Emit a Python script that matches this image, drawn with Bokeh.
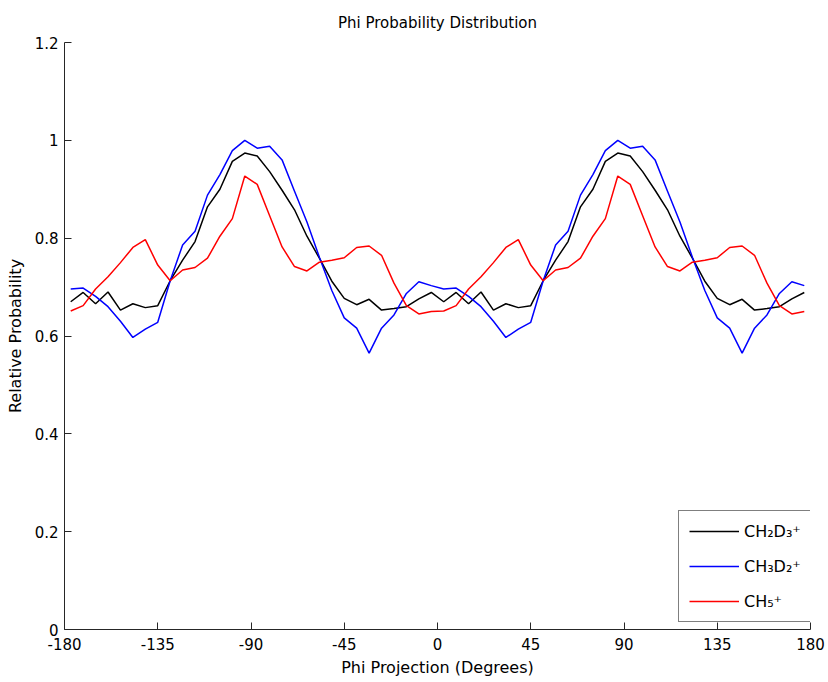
from bokeh.plotting import figure
from bokeh.models import FixedTicker, CustomJSTickFormatter, Legend, LegendItem, Range1d
from bokeh.embed import file_html
from bokeh.resources import INLINE

# Bin centres (degrees)
angles = [-177, -171, -165, -159, -153, -147, -141, -135, -129, -123,
          -117, -111, -105, -99, -93, -87, -81, -75, -69, -63,
          -57, -51, -45, -39, -33, -27, -21, -15, -9, -3,
          3, 9, 15, 21, 27, 33, 39, 45, 51, 57,
          63, 69, 75, 81, 87, 93, 99, 105, 111, 117,
          123, 129, 135, 141, 147, 153, 159, 165, 171, 177]

ch2d3 = [0.670, 0.689, 0.666, 0.690, 0.653, 0.666, 0.658, 0.662, 0.713, 0.755,
         0.793, 0.864, 0.900, 0.957, 0.974, 0.968, 0.936, 0.898, 0.858, 0.804,
         0.759, 0.712, 0.677, 0.664, 0.675, 0.653, 0.656, 0.660, 0.676, 0.689,
         0.670, 0.689, 0.666, 0.690, 0.653, 0.666, 0.658, 0.662, 0.713, 0.755,
         0.793, 0.864, 0.900, 0.957, 0.974, 0.968, 0.936, 0.898, 0.858, 0.804,
         0.759, 0.712, 0.677, 0.664, 0.675, 0.653, 0.656, 0.660, 0.676, 0.689]

ch3d2 = [0.696, 0.698, 0.681, 0.660, 0.630, 0.597, 0.614, 0.628, 0.713, 0.786,
         0.814, 0.888, 0.930, 0.979, 1.000, 0.984, 0.988, 0.960, 0.896, 0.833,
         0.761, 0.693, 0.637, 0.616, 0.565, 0.616, 0.643, 0.687, 0.711, 0.703,
         0.696, 0.698, 0.681, 0.660, 0.630, 0.597, 0.614, 0.628, 0.713, 0.786,
         0.814, 0.888, 0.930, 0.979, 1.000, 0.984, 0.988, 0.960, 0.896, 0.833,
         0.761, 0.693, 0.637, 0.616, 0.565, 0.616, 0.643, 0.687, 0.711, 0.703]

ch5 = [0.651, 0.662, 0.696, 0.721, 0.750, 0.781, 0.797, 0.745, 0.713, 0.735,
       0.740, 0.759, 0.804, 0.840, 0.927, 0.910, 0.846, 0.782, 0.742, 0.733,
       0.751, 0.755, 0.760, 0.781, 0.784, 0.765, 0.708, 0.662, 0.645, 0.650,
       0.651, 0.662, 0.696, 0.721, 0.750, 0.781, 0.797, 0.745, 0.713, 0.735,
       0.740, 0.759, 0.804, 0.840, 0.927, 0.910, 0.846, 0.782, 0.742, 0.733,
       0.751, 0.755, 0.760, 0.781, 0.784, 0.765, 0.708, 0.662, 0.645, 0.650]

series_labels = ["CH\u2082D\u2083\u207a", "CH\u2083D\u2082\u207a", "CH\u2085\u207a"]
series_colors = ["#000000", "#0000ff", "#ff0000"]

x_ticks = [-180, -135, -90, -45, 0, 45, 90, 135, 180]
y_ticks = [0, 0.2, 0.4, 0.6, 0.8, 1, 1.2]

FONT = "DejaVu Sans"

p = figure(width=828, height=682, output_backend="svg", toolbar_location=None,
           x_range=Range1d(-180, 180), y_range=Range1d(0, 1.2),
           min_border_left=64, min_border_right=18, min_border_top=41,
           min_border_bottom=53)

p.title.text = "Phi Probability Distribution"
p.title.align = "center"
p.title.text_font = FONT
p.title.text_font_size = "15px"
p.title.text_font_style = "normal"
p.title.text_color = "black"
p.title.text_line_height = 1.0
p.title.standoff = 22

p.xgrid.visible = False
p.ygrid.visible = False
p.outline_line_color = None
p.background_fill_color = "white"
p.border_fill_color = "white"

p.xaxis.ticker = FixedTicker(ticks=x_ticks)
p.yaxis.ticker = FixedTicker(ticks=y_ticks)
fmt = "return String(tick);"
p.xaxis.formatter = CustomJSTickFormatter(code=fmt)
p.yaxis.formatter = CustomJSTickFormatter(code=fmt)

for ax in (p.xaxis, p.yaxis):
    ax.major_tick_in = 7
    ax.major_tick_out = 0
    ax.minor_tick_line_color = None
    ax.axis_line_color = "#262626"
    ax.major_tick_line_color = "#262626"
    ax.major_label_text_font = FONT
    ax.major_label_text_font_size = "15px"
    ax.major_label_text_color = "black"
    ax.axis_label_text_font = FONT
    ax.axis_label_text_font_size = "16px"
    ax.axis_label_text_font_style = "normal"
    ax.axis_label_text_color = "black"

p.xaxis.axis_label = "Phi Projection (Degrees)"
p.yaxis.axis_label = "Relative Probability"
p.xaxis.major_label_standoff = 8
p.yaxis.major_label_standoff = 6
p.xaxis.axis_label_standoff = 5
p.yaxis.axis_label_standoff = 7

renderers = []
for ys, col in zip([ch2d3, ch3d2, ch5], series_colors):
    r = p.line(angles, ys, line_color=col, line_width=1.5)
    renderers.append(r)

legend = Legend(items=[LegendItem(label=lab, renderers=[r])
                       for lab, r in zip(series_labels, renderers)],
                location=(614, 7), margin=0, padding=10, spacing=15,
                glyph_width=50, glyph_height=20, label_height=20,
                label_standoff=5, label_text_font=FONT,
                label_text_font_size="16px", label_text_color="black",
                border_line_color="black", border_line_width=1,
                background_fill_color="white", background_fill_alpha=1)
p.add_layout(legend)

open("out.html", "w").write(file_html(p, INLINE))
